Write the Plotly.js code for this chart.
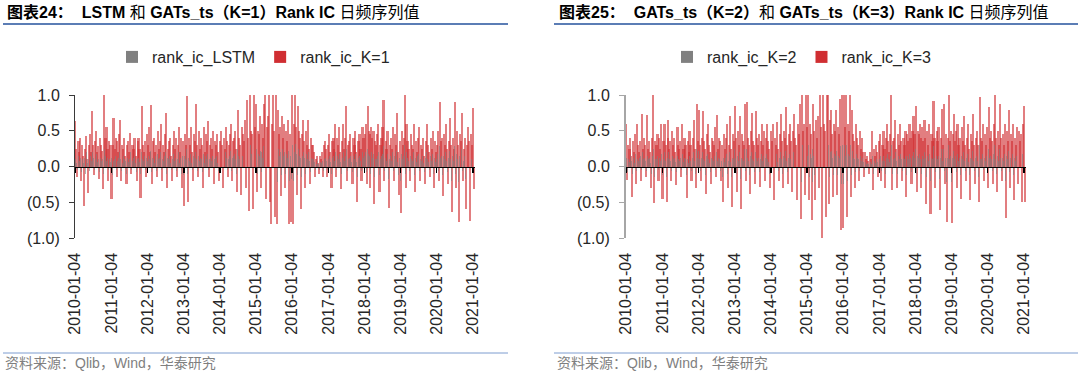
<!DOCTYPE html>
<html>
<head>
<meta charset="utf-8">
<script src="https://cdn.plot.ly/plotly-3.0.1.min.js"></script>
<style>html,body{margin:0;padding:0;background:#fff;}#chart{width:1080px;height:375px;}</style>
</head>
<body>
<div id="chart"></div>
<script>
// ---- tick labels ----
const tickLabels = ['2010-01-04','2011-01-04','2012-01-04','2013-01-04','2014-01-04','2015-01-04','2016-01-04','2017-01-04','2018-01-04','2019-01-04','2020-01-04','2021-01-04'];
const yTickVals = [-1, -0.5, 0, 0.5, 1];
const yTickText = ['(1.0)', '(0.5)', '0.0', '0.5', '1.0'];
// sample days inside each month (3 readings per month, Jan 2010 .. Jan 2021)
const sampleDays = ['05','15','25'];
const startYear = 2010;

// ---- Chart 24: rank_ic_LSTM (grey) ----
const rankIcLSTM = [
 0.1,0.05,-0.05, 0.15,0.08,0.12, -0.08,0.1,0.05, 0.12,-0.1,0.2, 0.05,0.1,-0.06, 0.15,0.08,0.2, 0.12,-0.05,0.1, 0.18,0.06,0.1, -0.08,0.12,0.08, 0.1,-0.1,0.25, 0.15,0.08,0.12, -0.05,0.1,0.06,
 0.12,-0.12,0.08, 0.1,0.15,-0.05, 0.08,0.12,0.2, 0.1,-0.06,0.05, 0.15,0.1,0.08, -0.1,0.12,0.06, 0.1,0.2,-0.05, 0.08,0.12,0.15, 0.05,-0.08,0.1, 0.12,0.06,-0.1, 0.2,0.1,0.08, 0.15,-0.05,0.12,
 0.08,0.15,0.1, 0.22,-0.08,0.12, 0.1,0.05,0.15, -0.06,0.18,0.1, 0.12,0.2,-0.05, 0.1,0.08,0.15, 0.2,-0.1,0.12, 0.1,0.15,0.05, -0.05,0.1,0.18, 0.08,0.12,-0.06, 0.1,0.2,0.05, 0.12,-0.1,0.15,
 -0.12,0.15,0.1, 0.25,-0.1,0.12, 0.08,0.18,0.05, -0.05,0.15,0.12, 0.2,0.1,-0.06, 0.15,0.08,0.12, 0.1,-0.08,0.18, 0.05,0.15,0.1, 0.18,-0.05,0.1, 0.12,0.08,0.15, -0.08,0.1,0.12, 0.15,0.05,-0.06,
 0.12,0.18,0.1, -0.1,0.15,0.08, 0.2,0.12,-0.05, 0.1,0.15,0.22, -0.06,0.12,0.15, 0.18,0.1,-0.1, 0.25,0.15,0.1, -0.12,0.2,0.15, 0.12,0.22,-0.08, 0.28,0.15,-0.15, 0.3,0.18,0.12, -0.15,0.3,0.2,
 0.25,-0.1,0.18, 0.15,0.22,-0.08, 0.2,0.12,0.28, 0.3,-0.15,0.2, 0.22,0.32,-0.12, -0.2,0.2,0.3, 0.15,-0.18,0.35, -0.22,0.25,0.15, 0.2,-0.12,0.25, 0.15,0.2,-0.1, 0.18,0.12,0.22, -0.2,0.15,-0.18,
 0.3,-0.2,0.2, 0.32,0.18,-0.12, 0.25,0.15,0.12, -0.15,0.15,0.2, 0.12,-0.1,0.18, 0.1,0.2,0.08, -0.08,0.12,0.1, 0.1,0.06,-0.05, 0.04,0.08,0.03, -0.05,0.06,0.05, 0.08,-0.06,0.1, 0.12,0.08,-0.05,
 0.1,0.15,0.06, -0.1,0.12,0.15, 0.08,0.2,-0.05, 0.15,0.1,0.18, 0.06,-0.1,0.12, 0.2,0.08,0.15, 0.25,-0.06,0.1, 0.12,0.15,0.06, -0.08,0.15,0.1, 0.18,0.06,-0.15, 0.12,0.15,0.08, -0.06,0.2,0.12,
 0.15,0.2,-0.08, 0.25,0.18,0.15, -0.1,0.2,0.12, 0.18,-0.15,0.1, 0.1,0.15,0.2, -0.12,0.1,0.15, 0.18,0.28,-0.06, 0.12,0.08,0.18, -0.18,0.1,0.15, 0.08,0.2,-0.06, 0.15,0.1,0.22, 0.06,-0.12,0.12,
 -0.2,0.18,0.1, 0.15,0.3,-0.1, 0.2,0.12,0.08, -0.06,0.15,0.1, 0.08,0.2,-0.12, 0.12,0.06,0.15, 0.18,-0.06,0.1, 0.08,0.15,0.05, -0.08,0.12,0.2, 0.1,0.06,-0.05, 0.15,0.08,0.18, -0.1,0.12,0.06,
 0.1,0.18,-0.06, 0.28,0.12,0.15, -0.12,0.15,0.1, 0.2,0.08,-0.08, 0.12,0.22,0.1, -0.2,0.15,0.08, 0.28,-0.1,0.18, 0.1,-0.22,0.15, 0.12,0.25,-0.06, 0.08,0.15,-0.18, 0.1,0.2,0.12, -0.22,0.15,0.1,
 0.25,-0.1
];

// ---- Chart 24: rank_ic_K=1 (red) ----
const rankIcK1 = [
 0.63,0.25,-0.15, 0.35,0.2,0.4, -0.2,0.3,0.15, -0.55,0.25,0.42, 0.1,-0.37,0.3, 0.45,0.2,0.77, 0.3,-0.12,0.35, 0.5,0.2,0.28, -0.18,0.4,0.3, 0.22,-0.32,1.0, 0.4,0.55,0.25, -0.2,0.35,0.3,
 -0.46,0.3,0.68, 0.25,0.4,-0.15, 0.35,0.2,0.45, 0.65,-0.2,0.3, 0.25,0.4,0.15, -0.25,0.3,0.35, 0.2,0.47,-0.1, 0.3,0.25,0.4, 0.15,-0.2,0.35, 0.4,0.25,-0.44, 0.84,0.3,0.2, 0.35,-0.15,0.45,
 0.3,0.55,0.2, 0.86,-0.25,0.35, 0.4,0.2,0.3, -0.15,0.5,0.25, 0.35,0.6,-0.2, 0.3,0.2,0.45, 0.75,-0.3,0.25, 0.35,0.4,0.15, -0.2,0.3,0.5, 0.25,0.4,-0.15, 0.3,0.55,0.2, 0.4,-0.3,0.35,
 -0.55,0.45,0.3, 0.98,-0.5,0.4, 0.3,0.55,0.2, -0.2,0.45,0.35, 0.88,0.3,-0.15, 0.5,0.25,0.4, 0.3,-0.3,0.55, 0.2,0.45,0.35, 0.63,-0.15,0.3, 0.4,0.25,0.5, -0.25,0.35,0.3, 0.45,0.2,-0.2,
 0.35,0.5,0.3, -0.3,0.4,0.25, 0.55,0.35,-0.15, 0.3,0.45,0.6, -0.2,0.35,0.4, 0.5,0.25,-0.35, 0.79,0.4,0.3, -0.4,0.55,0.45, 0.35,0.65,-0.3, 0.93,0.4,-0.62, 1.0,0.5,0.45, -0.6,1.0,0.55,
 0.88,-0.35,0.5, 0.45,0.7,-0.3, 0.6,0.4,0.88, 1.0,-0.45,0.55, 0.7,1.0,-0.5, -0.8,0.6,1.0, 0.5,-0.71,1.0, -0.81,0.79,0.45, 0.55,-0.41,0.7, 0.4,0.6,-0.3, 0.5,0.35,0.65, -0.8,0.45,-0.78,
 1.0,-0.81,0.6, 1.0,0.55,-0.4, 0.84,0.5,0.4, -0.6,0.45,0.65, 0.35,-0.3,0.5, 0.3,0.65,0.25, -0.25,0.4,0.3, 0.3,0.2,-0.15, 0.1,0.15,0.05, -0.1,0.15,0.1, 0.2,-0.15,0.3, 0.35,0.25,-0.15,
 0.3,0.45,0.2, -0.3,0.35,0.4, 0.25,0.6,-0.15, 0.4,0.3,0.55, 0.2,-0.32,0.35, 0.6,0.25,0.4, 0.84,-0.2,0.3, 0.35,0.45,0.2, -0.25,0.4,0.3, 0.5,0.2,-0.5, 0.35,0.45,0.25, -0.2,0.55,0.4,
 0.45,0.6,-0.25, 0.84,0.5,0.45, -0.3,0.55,0.4, 0.5,-0.53,0.35, 0.3,0.45,0.6, -0.35,0.3,0.4, 0.55,0.93,-0.2, 0.35,0.25,0.5, -0.58,0.3,0.4, 0.25,0.55,-0.2, 0.45,0.3,0.75, 0.2,-0.4,0.35,
 -0.65,0.5,0.3, 0.4,1.0,-0.3, 0.6,0.35,0.25, -0.2,0.45,0.3, 0.25,0.6,-0.35, 0.35,0.2,0.4, 0.55,-0.2,0.3, 0.25,0.4,0.15, -0.25,0.35,0.6, 0.3,0.2,-0.15, 0.4,0.25,0.5, -0.3,0.35,0.2,
 0.3,0.5,-0.2, 0.9,0.35,0.4, -0.41,0.45,0.3, 0.6,0.25,-0.25, 0.35,0.68,0.3, -0.63,0.4,0.25, 0.9,-0.3,0.5, 0.3,-0.77,0.45, 0.35,0.75,-0.2, 0.25,0.4,-0.6, 0.3,0.55,0.35, -0.76,0.45,0.3,
 0.82,-0.32
];

// ---- Chart 25: rank_ic_K=2 (grey) ----
const rankIcK2 = [
 0.12,-0.08,0.1, 0.06,0.15,0.08, -0.1,0.12,0.05, 0.18,-0.06,0.1, 0.08,0.12,0.15, -0.05,0.2,0.1, 0.12,0.08,-0.06, 0.15,0.1,0.12, 0.05,-0.1,0.15, 0.25,-0.15,0.1, 0.1,0.15,-0.05, 0.12,0.08,0.18,
 -0.12,0.1,0.2, 0.08,-0.15,0.12, 0.2,0.1,0.08, -0.06,0.15,0.1, 0.12,0.06,-0.08, 0.15,0.1,0.08, 0.12,-0.05,0.18, 0.06,0.12,0.1, -0.12,0.1,0.05, 0.15,0.08,-0.06, 0.12,0.2,0.08, -0.1,0.25,0.12,
 0.22,0.1,-0.06, 0.12,0.2,0.1, 0.08,-0.12,0.15, 0.18,0.1,0.05, -0.08,0.12,0.1, 0.08,0.15,-0.05, 0.2,0.08,0.12, 0.1,-0.06,0.08, -0.15,0.12,0.06, 0.12,0.18,-0.1, 0.08,0.2,0.06, -0.15,0.12,0.1,
 0.25,0.12,-0.1, 0.15,0.08,0.2, -0.18,0.12,0.1, 0.08,0.25,-0.06, 0.25,0.12,0.08, -0.12,0.15,0.2, 0.1,0.08,-0.08, 0.2,0.12,0.08, 0.12,-0.08,0.1, 0.18,0.08,0.15, -0.06,0.12,0.18, 0.1,0.06,-0.1,
 0.15,0.1,0.18, -0.15,0.12,0.08, 0.18,0.06,-0.06, 0.12,0.2,0.1, -0.1,0.15,0.12, 0.22,0.08,-0.08, 0.12,0.18,0.1, -0.1,0.15,0.2, 0.12,0.08,-0.15, 0.18,0.12,0.25, -0.22,0.3,0.15, 0.18,-0.12,0.3,
 0.15,0.3,-0.15, 0.18,0.12,-0.22, 0.25,0.15,-0.12, 0.2,0.12,0.22, -0.1,0.3,0.15, -0.3,0.3,0.18, 0.15,-0.2,0.32, 0.3,-0.15,0.2, 0.22,0.12,-0.12, 0.18,0.15,0.22, -0.12,0.15,0.12, 0.28,-0.25,0.3,
 -0.25,0.3,0.15, 0.3,-0.2,0.18, 0.15,0.3,-0.12, 0.22,0.12,0.1, -0.08,0.18,0.12, 0.1,-0.06,0.15, 0.08,0.12,0.06, -0.05,0.06,0.03, 0.05,0.03,-0.04, 0.06,0.04,0.15, -0.1,0.08,0.05, 0.1,0.06,-0.05,
 0.1,0.15,-0.06, 0.08,0.15,0.08, -0.1,0.12,0.18, 0.1,0.06,0.15, 0.3,-0.1,0.1, 0.12,0.2,0.08, -0.1,0.15,0.1, 0.18,0.1,-0.06, 0.12,0.1,0.15, -0.12,0.15,0.1, 0.18,0.12,-0.08, 0.15,0.2,0.12,
 0.25,-0.1,0.15, 0.12,0.18,0.1, -0.1,0.15,0.1, 0.2,0.12,-0.15, 0.15,0.08,0.18, -0.2,0.12,0.1, 0.28,0.12,-0.08, 0.15,0.1,0.15, -0.18,0.12,0.25, 0.08,0.25,-0.06, 0.12,-0.22,0.12, 0.3,0.1,0.15,
 -0.22,0.12,0.22, 0.1,0.15,-0.08, 0.18,0.08,0.12, -0.12,0.15,0.1, 0.2,0.08,-0.06, 0.12,0.18,0.06, -0.12,0.12,0.1, 0.22,0.08,-0.06, 0.12,0.15,0.08, -0.15,0.3,0.1, 0.1,0.18,-0.05, 0.12,0.08,0.15,
 -0.08,0.25,0.12, 0.15,0.1,-0.06, 0.18,0.3,0.1, -0.1,0.15,0.08, 0.25,0.12,-0.06, 0.12,0.08,0.18, -0.2,0.15,0.1, 0.22,-0.08,0.12, 0.1,0.18,-0.12, 0.12,0.08,0.15, -0.06,0.15,0.1, 0.12,-0.12,0.18,
 0.25,-0.12
];

// ---- Chart 25: rank_ic_K=3 (red) ----
const rankIcK3 = [
 0.6,-0.19,0.3, 0.25,0.4,0.15, -0.42,0.35,0.2, 0.45,-0.25,0.6, 0.3,0.2,0.35, -0.2,0.74,0.25, 0.4,0.3,-0.15, 0.72,0.25,0.35, 0.2,-0.3,0.4, 1.0,-0.51,0.35, 0.3,0.45,-0.2, 0.4,0.25,0.6,
 -0.45,0.35,0.6, 0.3,-0.49,0.4, 0.65,0.25,0.35, -0.2,0.5,0.3, 0.4,0.2,-0.26, 0.55,0.3,0.25, 0.35,-0.15,0.6, 0.25,0.4,0.3, -0.44,0.35,0.2, 0.5,0.3,-0.2, 0.4,0.65,0.25, -0.3,0.88,0.35,
 0.79,0.3,-0.2, 0.4,0.78,0.35, 0.25,-0.38,0.45, 0.6,0.3,0.2, -0.25,0.4,0.35, 0.3,0.55,-0.15, 0.72,0.25,0.4, 0.35,-0.2,0.3, -0.49,0.45,0.25, 0.4,0.6,-0.3, 0.3,0.7,0.25, -0.56,0.45,0.35,
 0.85,0.4,-0.35, 0.5,0.3,0.7, -0.59,0.45,0.35, 0.3,0.88,-0.2, 0.9,0.4,0.3, -0.38,0.5,0.75, 0.35,0.3,-0.25, 0.78,0.4,0.3, 0.45,-0.28,0.35, 0.6,0.3,0.5, -0.2,0.4,0.6, 0.35,0.25,-0.3,
 0.5,0.35,0.6, -0.47,0.4,0.3, 0.62,0.25,-0.2, 0.45,0.74,0.35, -0.3,0.5,0.4, 0.83,0.3,-0.25, 0.45,0.6,0.35, -0.35,0.5,0.74, 0.4,0.3,-0.47, 0.6,0.45,0.88, -0.74,1.0,0.5, 0.6,-0.4,1.0,
 0.55,1.0,-0.47, 0.6,0.45,-0.75, 0.88,0.5,-0.47, 0.65,0.4,0.7, -0.3,1.0,0.55, -1.0,1.0,0.6, 0.5,-0.7,1.0, 1.0,-0.52,0.65, 0.79,0.45,-0.42, 0.6,0.5,0.79, -0.4,0.55,0.45, 0.95,-0.89,1.0,
 -0.86,1.0,0.55, 1.0,-0.7,0.6, 0.5,1.0,-0.42, 0.79,0.45,0.35, -0.3,0.6,0.4, 0.3,-0.2,0.5, 0.25,0.4,0.2, -0.15,0.2,0.1, 0.15,0.08,-0.1, 0.2,0.1,0.5, -0.33,0.25,0.15, 0.3,0.2,-0.15,
 0.35,0.45,-0.2, 0.3,0.5,0.25, -0.3,0.4,0.6, 0.35,0.2,0.45, 1.0,-0.33,0.35, 0.4,0.65,0.25, -0.3,0.45,0.3, 0.6,0.35,-0.2, 0.4,0.3,0.5, -0.42,0.45,0.35, 0.6,0.4,-0.25, 0.5,0.7,0.45,
 0.85,-0.35,0.5, 0.45,0.6,0.4, -0.3,0.55,0.35, 0.65,0.4,-0.53, 0.5,0.3,0.6, -0.66,0.45,0.35, 0.92,0.4,-0.3, 0.5,0.35,0.55, -0.61,0.4,0.8, 0.3,0.88,-0.25, 0.45,-0.77,0.4, 1.0,0.35,0.5,
 -0.79,0.45,0.74, 0.35,0.5,-0.3, 0.6,0.3,0.4, -0.46,0.55,0.35, 0.7,0.3,-0.2, 0.4,0.6,0.25, -0.47,0.45,0.35, 0.74,0.3,-0.25, 0.4,0.5,0.3, -0.49,0.97,0.4, 0.35,0.6,-0.2, 0.45,0.3,0.55,
 -0.3,0.83,0.4, 0.5,0.35,-0.25, 0.6,1.0,0.4, -0.35,0.5,0.3, 0.88,0.4,-0.2, 0.45,0.3,0.6, -0.72,0.5,0.35, 0.79,-0.3,0.45, 0.35,0.6,-0.47, 0.4,0.3,0.55, -0.25,0.5,0.35, 0.45,-0.49,0.6,
 0.85,-0.49
];

// ---- build sample dates (3 per month) ----
function sampleDates(n) {
  const out = [];
  for (let i = 0; i < n; i++) {
    const m = Math.floor(i / 3);
    const y = startYear + Math.floor(m / 12);
    const mo = String((m % 12) + 1).padStart(2, '0');
    out.push(y + '-' + mo + '-' + sampleDays[i % 3]);
  }
  return out;
}

const DAY = 86400000;
const RED = 'rgb(208,46,50)';
const GREY = 'rgb(128,128,128)';
const FONT = 'Liberation Sans, Arial, Noto Sans CJK SC, sans-serif';
const TXT = '#262626';

const traces = [
  {type:'bar', name:'rank_ic_K=1', x:sampleDates(rankIcK1.length), y:rankIcK1, xaxis:'x', yaxis:'y',
   width:21*DAY, marker:{color:RED, opacity:0.62, line:{width:0}}, legend:'legend', legendrank:2, hoverinfo:'skip'},
  {type:'bar', name:'rank_ic_LSTM', x:sampleDates(rankIcLSTM.length), y:rankIcLSTM, xaxis:'x', yaxis:'y',
   width:9*DAY, marker:{color:GREY, opacity:0.6, line:{width:0}}, legend:'legend', legendrank:1, hoverinfo:'skip'},
  {type:'bar', name:'rank_ic_K=3', x:sampleDates(rankIcK3.length), y:rankIcK3, xaxis:'x2', yaxis:'y2',
   width:21*DAY, marker:{color:RED, opacity:0.62, line:{width:0}}, legend:'legend2', legendrank:2, hoverinfo:'skip'},
  {type:'bar', name:'rank_ic_K=2', x:sampleDates(rankIcK2.length), y:rankIcK2, xaxis:'x2', yaxis:'y2',
   width:9*DAY, marker:{color:GREY, opacity:0.6, line:{width:0}}, legend:'legend2', legendrank:1, hoverinfo:'skip'}
];

const yDom = [1 - 238/375, 1 - 95/375];
const zeroPos = (yDom[0] + yDom[1]) / 2;
const xRange = ['2010-01-01', '2021-01-25'];

function xAxis(domain) {
  return {
    type:'date', domain:domain, range:xRange, anchor:'free', position:zeroPos,
    tickmode:'array', tickvals:tickLabels, ticktext:tickLabels, tickangle:-90,
    ticks:'outside', ticklen:5, tickwidth:1.5, tickcolor:'#000',
    showline:true, linecolor:'#000', linewidth:1, showgrid:false, zeroline:false,
    ticklabelstandoff:74, tickfont:{family:FONT, size:16, color:TXT}, fixedrange:true
  };
}
function yAxis(anchor, lineColor, lineWidth) {
  return {
    domain:yDom, range:[-1, 1], anchor:anchor,
    tickmode:'array', tickvals:yTickVals, ticktext:yTickText,
    ticks:'outside', ticklen:5, tickcolor:lineColor, tickwidth:1,
    showline:true, linecolor:lineColor, linewidth:lineWidth, showgrid:false, zeroline:false,
    ticklabelstandoff:6, tickfont:{family:FONT, size:16, color:TXT}, fixedrange:true
  };
}

const layout = {
  width:1080, height:375, margin:{l:0, r:0, t:0, b:0},
  paper_bgcolor:'#fff', plot_bgcolor:'rgba(0,0,0,0)',
  font:{family:FONT, size:16, color:TXT},
  barmode:'overlay', bargap:0,
  xaxis: xAxis([75/1080, 475/1080]),
  yaxis: yAxis('x', '#3a3a3a', 1),
  xaxis2: xAxis([626/1080, 1026/1080]),
  yaxis2: yAxis('x2', '#a6a6a6', 2),
  legend: {orientation:'h', x:112/1080, xanchor:'left', y:1-57/375, yanchor:'middle',
           font:{family:FONT, size:16, color:TXT}, itemwidth:30, bgcolor:'rgba(0,0,0,0)'},
  legend2: {orientation:'h', x:667/1080, xanchor:'left', y:1-57/375, yanchor:'middle',
           font:{family:FONT, size:16, color:TXT}, itemwidth:30, bgcolor:'rgba(0,0,0,0)'},
  annotations: [
    {xref:'paper', yref:'paper', x:5/1080, y:1-12/375, xanchor:'left', yanchor:'middle', showarrow:false,
     text:'<b>图表24：&nbsp;&nbsp;LSTM</b> 和 <b>GATs_ts（K=1）Rank IC</b> 日频序列值',
     font:{family:FONT, size:16, color:'#000'}},
    {xref:'paper', yref:'paper', x:557/1080, y:1-12/375, xanchor:'left', yanchor:'middle', showarrow:false,
     text:'<b>图表25：&nbsp;&nbsp;GATs_ts（K=2）</b>和 <b>GATs_ts（K=3）Rank IC</b> 日频序列值',
     font:{family:FONT, size:16, color:'#000'}},
    {xref:'paper', yref:'paper', x:3/1080, y:1-363/375, xanchor:'left', yanchor:'middle', showarrow:false,
     text:'资料来源：Qlib，Wind，华泰研究', font:{family:FONT, size:14, color:'#7f7f7f'}},
    {xref:'paper', yref:'paper', x:555/1080, y:1-363/375, xanchor:'left', yanchor:'middle', showarrow:false,
     text:'资料来源：Qlib，Wind，华泰研究', font:{family:FONT, size:14, color:'#7f7f7f'}}
  ],
  shapes: [
    {type:'line', xref:'paper', yref:'paper', x0:3/1080, x1:508/1080, y0:1-24/375, y1:1-24/375, line:{color:'#5b7db5', width:2}},
    {type:'line', xref:'paper', yref:'paper', x0:554/1080, x1:1078/1080, y0:1-24/375, y1:1-24/375, line:{color:'#5b7db5', width:2}},
    {type:'line', xref:'paper', yref:'paper', x0:3/1080, x1:508/1080, y0:1-353/375, y1:1-353/375, line:{color:'#7d9ccf', width:1}},
    {type:'line', xref:'paper', yref:'paper', x0:554/1080, x1:1078/1080, y0:1-353/375, y1:1-353/375, line:{color:'#7d9ccf', width:1}}
  ]
};

Plotly.newPlot('chart', traces, layout, {displayModeBar:false, staticPlot:true});
</script>
</body>
</html>
